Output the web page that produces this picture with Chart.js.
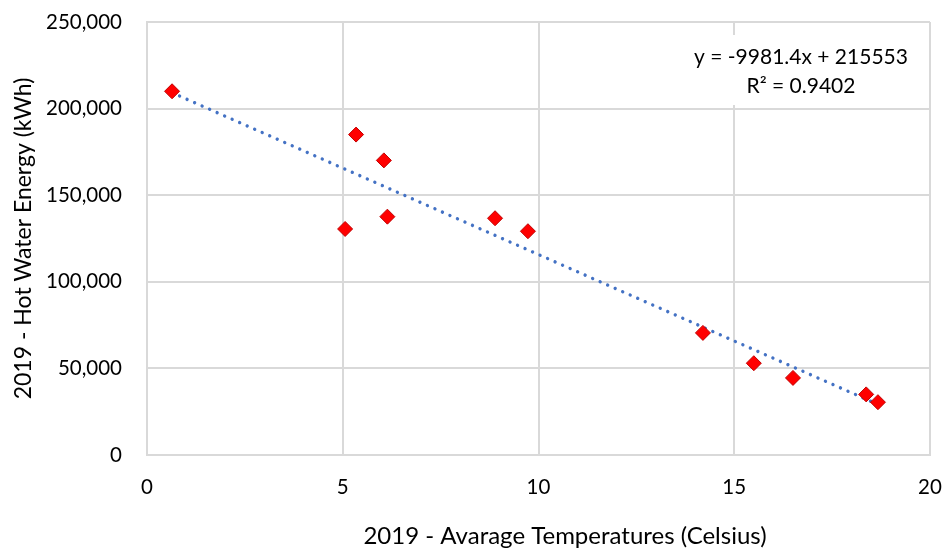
<!DOCTYPE html>
<html>
<head>
<meta charset="utf-8">
<script src="https://cdn.jsdelivr.net/npm/chart.js@4.4.1/dist/chart.umd.min.js"></script>
<style>
  html, body { margin: 0; padding: 0; background: #fff; }
  #wrap { width: 943px; height: 552px; }
</style>
</head>
<body>
<div id="wrap"><canvas id="energyChart" width="943" height="552"></canvas></div>
<script>
// 2019 monthly average temperature (°C) vs. hot water energy (kWh)
const tempX = [0.64, 5.06, 5.34, 6.05, 6.14, 8.89, 9.73, 14.2, 15.5, 16.5, 18.37, 18.67];
const energyY = [210000, 130500, 185000, 170100, 137600, 136700, 129200, 70500, 53000, 44500, 35000, 30500];

// linear trend as printed on the chart
const trendSlope = -9981.4;
const trendIntercept = 215553;
const trendLabel = ['y = -9981.4x + 215553', 'R\u00B2 = 0.9402'];

const xTicks = [0, 5, 10, 15, 20];
const yTicks = [0, 50000, 100000, 150000, 200000, 250000];
const xTitle = '2019 - Avarage Temperatures (Celsius)';
const yTitle = '2019 - Hot Water Energy (kWh)';

const FONT = 'Lato, "Open Sans", sans-serif';
const GRID = '#D9D9D9';

const points = tempX.map((x, i) => ({ x: x, y: energyY[i] }));
const xMin = Math.min(...tempX), xMax = Math.max(...tempX);
const trendPts = [xMin, xMax].map(x => ({ x: x, y: trendSlope * x + trendIntercept }));

// keep the plot area fixed: no extra room for overhanging tick labels
function noOverhang(s) {
  s.paddingLeft = 0; s.paddingRight = 0;
  s.paddingTop = 0; s.paddingBottom = 0;
}

// white box with the trendline equation, plus the x axis title
// (the title sits a bit right of the plot centre, so it is drawn by hand)
const extraText = {
  id: 'extraText',
  beforeDatasetsDraw(chart) {
    const { ctx, chartArea } = chart;
    ctx.save();
    ctx.fillStyle = '#fff';
    ctx.fillRect(chartArea.right - 250, chartArea.top + 13, 248, 70);
    ctx.fillStyle = '#000';
    ctx.font = '21px ' + FONT;
    ctx.textAlign = 'center';
    ctx.textBaseline = 'middle';
    const cx = chartArea.right - 129;
    ctx.fillText(trendLabel[0], cx, chartArea.top + 35);
    ctx.fillText(trendLabel[1], cx, chartArea.top + 64);

    ctx.font = '24px ' + FONT;
    ctx.fillText(xTitle, chartArea.left + 418, chartArea.bottom + 81);
    ctx.restore();
  }
};

new Chart(document.getElementById('energyChart'), {
  type: 'scatter',
  data: {
    datasets: [
      {
        label: 'Hot water energy',
        data: points,
        pointStyle: 'rectRot',
        pointRadius: 7.5,
        backgroundColor: '#FF0000',
        borderColor: '#C00000',
        borderWidth: 1,
        order: 1
      },
      {
        label: 'Linear trend',
        type: 'line',
        data: trendPts,
        showLine: true,
        pointRadius: 0,
        borderColor: '#4472C4',
        borderWidth: 3.4,
        borderDash: [0.01, 8.2],
        borderCapStyle: 'round',
        fill: false,
        order: 2
      }
    ]
  },
  options: {
    responsive: false,
    animation: false,
    layout: { padding: { top: 22, right: 13, left: 0, bottom: 0 } },
    plugins: {
      legend: { display: false },
      tooltip: { enabled: false }
    },
    scales: {
      x: {
        type: 'linear',
        min: 0,
        max: 20,
        afterBuildTicks: s => { s.ticks = xTicks.map(v => ({ value: v })); },
        afterFit: s => { s.height = 97; noOverhang(s); },
        grid: { color: GRID, lineWidth: 2, drawTicks: false },
        border: { color: GRID, width: 2 },
        ticks: { color: '#000', font: { family: FONT, size: 20.5 }, padding: 20 }
      },
      y: {
        type: 'linear',
        min: 0,
        max: 250000,
        afterBuildTicks: s => { s.ticks = yTicks.map(v => ({ value: v })); },
        afterFit: s => { s.width = 147; noOverhang(s); },
        grid: { color: GRID, lineWidth: 2, drawTicks: false },
        border: { color: GRID, width: 2 },
        ticks: {
          color: '#000',
          font: { family: FONT, size: 20.5 },
          padding: 25,
          callback: v => v.toLocaleString('en-US')
        },
        title: {
          display: true,
          text: yTitle,
          color: '#000',
          font: { family: FONT, size: 23 },
          padding: { top: 10, bottom: 0 }
        }
      }
    }
  },
  plugins: [extraText]
});
</script>
</body>
</html>
